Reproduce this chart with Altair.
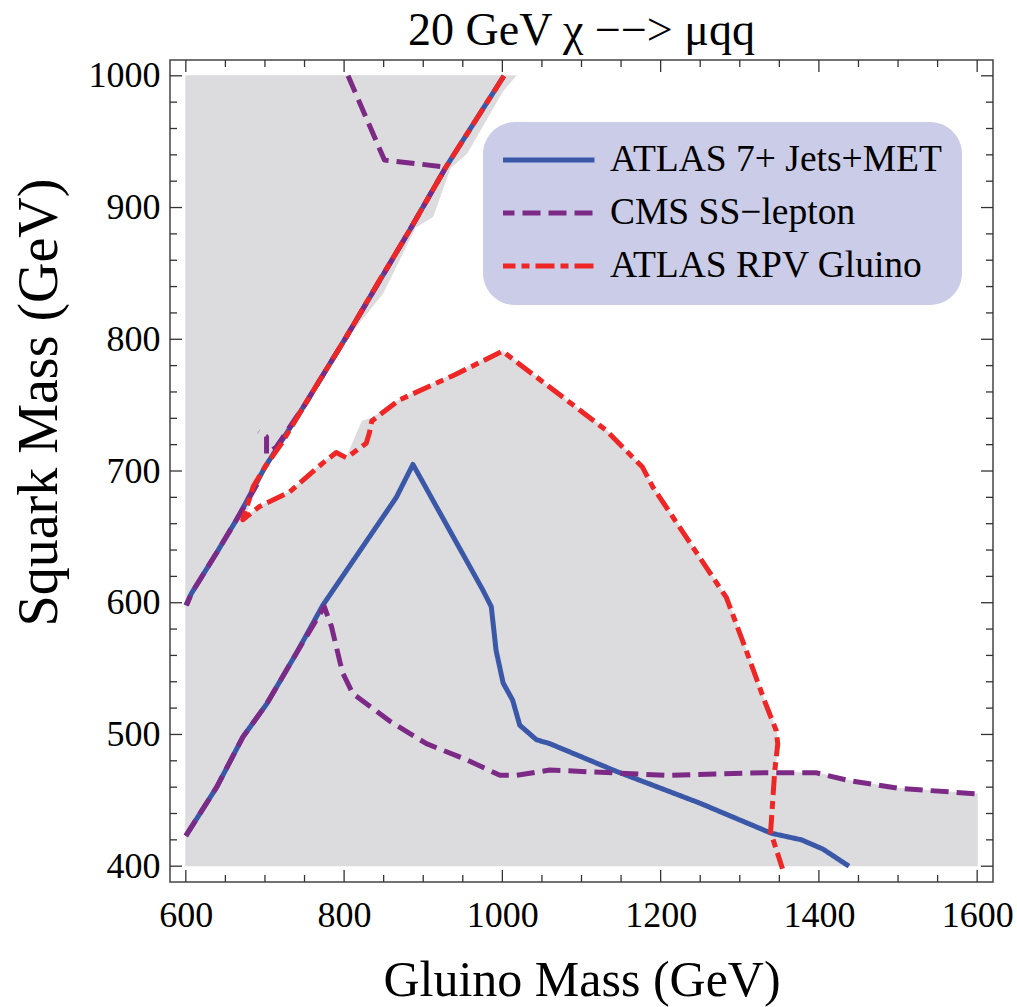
import altair as alt
import pandas as pd

FONT = "Liberation Serif"
NAMES = ["ATLAS 7+ Jets+MET", "CMS SS\u2212lepton", "ATLAS RPV Gluino"]
COLORS = ["#3b58a8", "#7c2a86", "#ef2626"]
DASHES = [[1, 0], [18, 8], [19, 6, 8, 6]]

# excluded (grey) region boundary
grey_x = [600, 600, 1017, 1000, 955, 934, 912, 890, 849, 805, 750, 700, 672,
          693, 731, 773, 790, 803, 823, 835, 870, 1000, 1131, 1177, 1190, 1283,
          1308, 1331, 1346, 1348, 1344, 1396, 1438, 1501, 1598, 1600, 1600]
grey_y = [400, 1000, 1000, 988, 941, 930, 893, 885, 835, 802, 750, 700, 663,
          673, 684, 706, 714, 710, 738, 740, 754, 791, 731, 703, 688, 604,
          564, 526, 503, 493, 471, 471, 465, 459, 455, 455, 400]

# ATLAS 7+ jets + MET (blue), two pieces
blue1_x = [600, 607, 639, 666, 700, 750, 803, 883, 929, 1002]
blue1_y = [598, 607, 638, 665, 703, 750, 802, 883, 931, 1000]
blue2_x = [600, 639, 672, 702, 740, 773, 815, 866, 887, 975, 986, 992, 1001, 1013,
           1022, 1043, 1060, 1072, 1144, 1249, 1340, 1378, 1405, 1438]
blue2_y = [423, 460, 498, 523, 562, 598, 635, 680, 705, 610, 597, 564, 539, 526,
           507, 496, 493, 490, 472, 448, 425, 420, 413, 400]

# CMS same-sign lepton (purple), three pieces
pur1_x = [805, 851, 925, 929, 883, 803, 750, 714, 702, 702, 692]
pur1_y = [1000, 936, 931, 931, 883, 802, 750, 718, 713, 726, 730]
pur2_x = [690, 666, 639, 607, 601]
pur2_y = [690, 665, 638, 607, 598]
pur3_x = [600, 639, 672, 702, 740, 775, 784, 798, 811, 858, 904, 954, 997, 1018,
          1060, 1207, 1333, 1396, 1438, 1502, 1598]
pur3_y = [423, 460, 498, 523, 562, 597, 582, 547, 531, 510, 493, 481, 469, 469,
          473, 469, 471, 471, 465, 459, 455]

# ATLAS RPV gluino (red)
red_x = [1002, 965, 929, 883, 840, 803, 760, 720, 700, 685, 672, 693, 731, 773, 790,
         803, 828, 832, 835, 870, 940, 1000, 1131, 1177, 1190, 1283, 1308, 1331,
         1346, 1348, 1344, 1339, 1354]
red_y = [1000, 965, 931, 883, 840, 802, 760, 720, 703, 688, 663, 673, 684, 706, 714,
         710, 721, 729, 738, 754, 773, 791, 731, 703, 688, 604, 564, 526,
         503, 493, 471, 426, 398]

# ticks
x_major = [600, 800, 1000, 1200, 1400, 1600]
x_minor = [650, 700, 750, 850, 900, 950, 1050, 1100, 1150, 1250, 1300, 1350,
           1450, 1500, 1550]
y_major = [400, 500, 600, 700, 800, 900, 1000]
y_minor = [420, 440, 460, 480, 520, 540, 560, 580, 620, 640, 660, 680, 720, 740,
           760, 780, 820, 840, 860, 880, 920, 940, 960, 980]

W, H = 823, 822


def piece(xs, ys, name, seg):
    return pd.DataFrame({"x": xs, "y": ys, "series": name, "seg": seg,
                         "i": list(range(len(xs)))})


xs = alt.Scale(domain=[580, 1620], nice=False, zero=False)
ys = alt.Scale(domain=[388, 1012], nice=False, zero=False)
xaxis = alt.Axis(values=x_major, format="d", ticks=False, domain=False, grid=False,
                 labelFont=FONT, labelFontSize=36, labelColor="black", labelPadding=16,
                 labelFlush=False, labelOverlap=False,
                 title="Gluino Mass (GeV)", titleFont=FONT, titleFontSize=50,
                 titleFontWeight="normal", titleColor="black", titleY=113,
                 titleBaseline="alphabetic")
yaxis = alt.Axis(values=y_major, format="d", ticks=False, domain=False, grid=False,
                 labelFont=FONT, labelFontSize=36, labelColor="black", labelPadding=10,
                 labelFlush=False, labelOverlap=False,
                 title="Squark Mass (GeV)", titleFont=FONT, titleFontSize=56,
                 titleFontWeight="normal", titleColor="black", titleAngle=270,
                 titleX=-131, titleY=342, titleAlign="center", titleBaseline="middle")
X = alt.X("x:Q", scale=xs, axis=xaxis)
Y = alt.Y("y:Q", scale=ys, axis=yaxis)

legend = alt.Legend(title=None, orient="none", legendX=313, legendY=62)
color = alt.Color("series:N", scale=alt.Scale(domain=NAMES, range=COLORS), legend=legend)
dash = alt.StrokeDash("series:N", scale=alt.Scale(domain=NAMES, range=DASHES), legend=legend)

grey = alt.Chart(piece(grey_x, grey_y, "grey", 0)).mark_line(
    fill="#dcdcdf", stroke="#dcdcdf", strokeWidth=1, interpolate="linear"
).encode(x=X, y=Y, order="i:Q")


def tick_layer(vals, axis, length, side):
    df = pd.DataFrame({axis: vals})
    m = alt.Chart(df).mark_rule(color="#333", strokeWidth=1.3)
    if axis == "x":
        if side == "bottom":
            return m.encode(x=X, y=alt.value(H), y2=alt.value(H - length))
        return m.encode(x=X, y=alt.value(0), y2=alt.value(length))
    if side == "left":
        return m.encode(y=Y, x=alt.value(0), x2=alt.value(length))
    return m.encode(y=Y, x=alt.value(W), x2=alt.value(W - length))


ticks = []
for side in ["bottom", "top"]:
    ticks.append(tick_layer(x_major, "x", 12, side))
    ticks.append(tick_layer(x_minor, "x", 7, side))
for side in ["left", "right"]:
    ticks.append(tick_layer(y_major, "y", 12, side))
    ticks.append(tick_layer(y_minor, "y", 7, side))


def series_layer(df):
    return alt.Chart(df).mark_line(strokeWidth=5, strokeCap="butt", strokeJoin="round").encode(
        x=X, y=Y, color=color, strokeDash=dash, detail="seg:N", order="i:Q")


blue_df = pd.concat([piece(blue1_x, blue1_y, NAMES[0], 1), piece(blue2_x, blue2_y, NAMES[0], 2)])
pur_df = pd.concat([piece(pur1_x, pur1_y, NAMES[1], 1), piece(pur2_x, pur2_y, NAMES[1], 2),
                    piece(pur3_x, pur3_y, NAMES[1], 3)])
red_df = piece(red_x, red_y, NAMES[2], 1)

chart = alt.layer(
    grey, *ticks, series_layer(blue_df), series_layer(pur_df), series_layer(red_df)
).properties(
    width=W, height=H,
    title=alt.Title("20 GeV \u03c7 \u2212\u2212> \u03bcqq", font=FONT, fontSize=46,
                    fontWeight="normal", color="black", anchor="middle", frame="group",
                    offset=15, baseline="alphabetic", dy=48),
    autosize=alt.AutoSizeParams(type="none"),
    padding={"left": 170, "top": 60, "right": 24, "bottom": 125},
).configure_view(
    stroke="#444", strokeWidth=1.5
).configure_legend(
    symbolType="stroke", symbolSize=9600, symbolStrokeWidth=5, clipHeight=36,
    rowPadding=15, labelOffset=13, symbolOffset=-9, padding=20, cornerRadius=32,
    fillColor="#cbcde8", labelFont=FONT, labelFontSize=37.5, labelColor="black",
    labelLimit=600, labelBaseline="middle"
)

chart.save("out.html", embed_options={"renderer": "svg", "actions": False})
